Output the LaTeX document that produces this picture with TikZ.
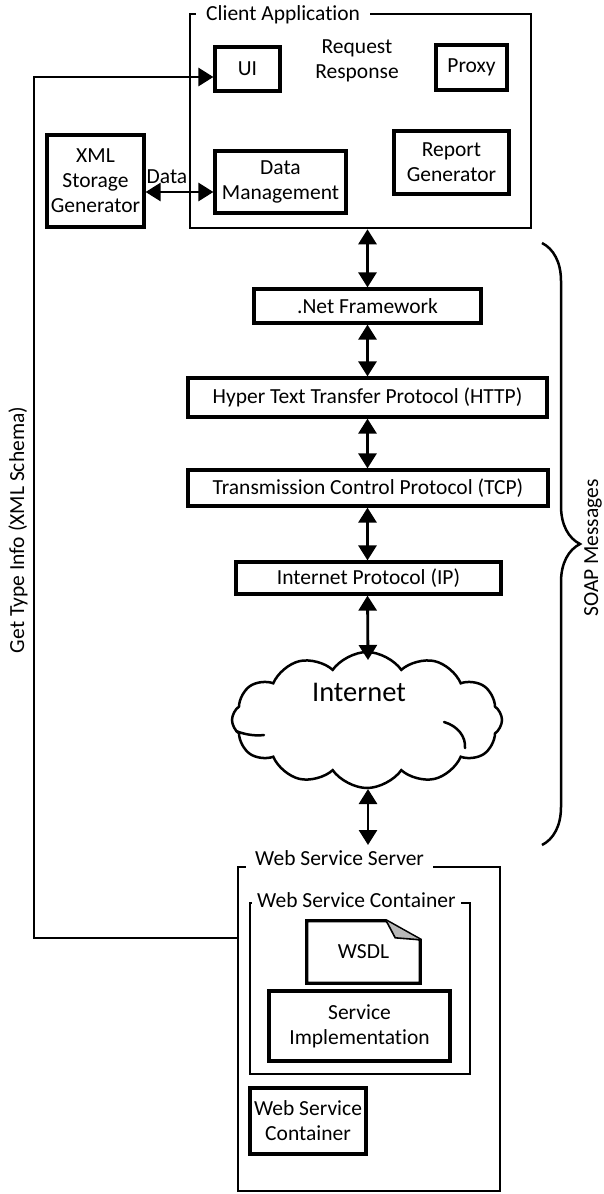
\documentclass[tikz,border=0pt]{standalone}
\usepackage{fontspec}
\setmainfont{Carlito}[Ligatures=NoCommon]
\usetikzlibrary{arrows.meta,shapes.symbols,decorations.pathreplacing}
\begin{document}
\begin{tikzpicture}[x=1pt,y=-1pt,
  every node/.style={font=\fontsize{21.5}{25}\selectfont},
  box/.style={draw, line width=3.2pt, align=center, inner sep=0pt},
  frame/.style={draw, line width=2.5pt, inner sep=0pt},
  lbl/.style={fill=white, inner xsep=9pt, inner ysep=3pt, anchor=base west},
  seam/.style={line width=2.5pt, line cap=round},
  dbl/.style={line width=2.8pt, {Triangle[width=18pt,length=15pt]}-{Triangle[width=18pt,length=15pt]}},
  sgl/.style={line width=2.8pt, -{Triangle[width=18pt,length=15pt]}}]
\useasboundingbox (0,0) rectangle (603,1194);
% client application
\node[frame, minimum width=341pt, minimum height=214pt] (client) at (360.5,121) {};
\node[box, minimum width=65pt, minimum height=44pt] (ui) at (247.5,69) {UI};
\node[align=center] (req) at (357,61) {Request\\Response};
\node[box, minimum width=71pt, minimum height=45pt] (proxy) at (471.5,67.5) {Proxy};
\node[box, minimum width=131pt, minimum height=62pt] (dm) at (280.5,182) {Data\\Management};
\node[box, minimum width=115pt, minimum height=63pt] (rep) at (451.5,162.5) {Report\\Generator};
\node[lbl, inner xsep=10pt] (clientlbl) at (196,20.5) {Client Application};
\node[box, minimum width=97pt, minimum height=92pt] (xml) at (95.5,181) {XML\\Storage\\Generator};
\node (datalbl) at (167,177) {Data};
\draw[dbl] (xml.east |- 0,192) -- (dm.west |- 0,192);
% protocol stack
\node[box, minimum width=227pt, minimum height=34pt] (net) at (367.5,306) {.Net Framework};
\node[box, minimum width=359pt, minimum height=39pt] (http) at (367.5,397.5) {Hyper Text Transfer Protocol (HTTP)};
\node[box, minimum width=360pt, minimum height=36pt] (tcp) at (368,488) {Transmission Control Protocol (TCP)};
\node[box, minimum width=265pt, minimum height=32pt] (ip) at (368.5,578) {Internet Protocol (IP)};
\node[cloud, draw, line width=2.5pt, cloud puffs=12, cloud puff arc=110, aspect=2, minimum width=270pt, minimum height=136pt, inner sep=0pt] (cloud) at (367,720) {};
\draw[seam] (236,731) .. controls (246,735) and (256,736) .. (264,735);
\draw[seam] (444,722) .. controls (458,726) and (466,737) .. (465,748);
\node[font=\fontsize{28.5}{32}\selectfont] (inet) at (359,692) {Internet};
\draw[dbl] (client.south -| net.north) -- (net.north);
\draw[dbl] (net.south) -- (http.north -| net.south);
\draw[dbl] (http.south -| net.south) -- (tcp.north -| net.south);
\draw[dbl] (tcp.south -| net.south) -- (ip.north -| net.south);
\coordinate (cloudtop) at (368,660);
\coordinate (cloudbot) at (368,789);
\draw[dbl] (ip.south -| net.south) -- (cloudtop);
\coordinate (srvin) at (368,845);
\draw[dbl] (cloudbot) -- (srvin);
% brace
\coordinate (bt) at (542,243);
\coordinate (bb) at (542,845);
\draw[line width=2.5pt, decorate, decoration={brace, amplitude=38pt}] (bt) -- (bb);
\node[rotate=90] (soap) at (593,548) {SOAP Messages};
% web service server
\node[frame, minimum width=262pt, minimum height=324pt] (srv) at (369,1029) {};
\node[lbl] (srvlbl) at (246,865) {Web Service Server};
\node[frame, minimum width=220pt, minimum height=171pt] (wsc) at (360,988.5) {};
\node[lbl, inner xsep=5pt] (wsclbl) at (252,907) {Web Service Container};
\node[minimum width=113pt, minimum height=62pt, inner sep=0pt] (wsdl) at (363.5,952) {WSDL};
\draw[line width=3.2pt, line join=miter] (wsdl.north west) -- ([xshift=-34pt]wsdl.north east) -- ([yshift=-19pt]wsdl.north east) -- (wsdl.south east) -- (wsdl.south west) -- cycle;
\fill[gray!55] ([xshift=-34pt]wsdl.north east) -- ([xshift=-25pt,yshift=-17pt]wsdl.north east) -- ([yshift=-19pt]wsdl.north east) -- cycle;
\draw[line width=1.6pt] ([xshift=-34pt]wsdl.north east) -- ([xshift=-25pt,yshift=-17pt]wsdl.north east) -- ([yshift=-19pt]wsdl.north east);
\node[box, minimum width=181pt, minimum height=70pt] (impl) at (359.5,1026) {Service\\Implementation};
\node[box, minimum width=116pt, minimum height=66pt] (wsc2) at (308,1121) {Web Service\\Container};
% get type info
\coordinate (gt1) at (34,77);
\coordinate (gt2) at (34,938);
\draw[sgl] (srv.west |- gt2) -- (gt2) -- (gt1) -- (gt1 -| ui.west);
\node[rotate=90] (gtlbl) at (18,530) {Get Type Info (XML Schema)};
\end{tikzpicture}
\end{document}
